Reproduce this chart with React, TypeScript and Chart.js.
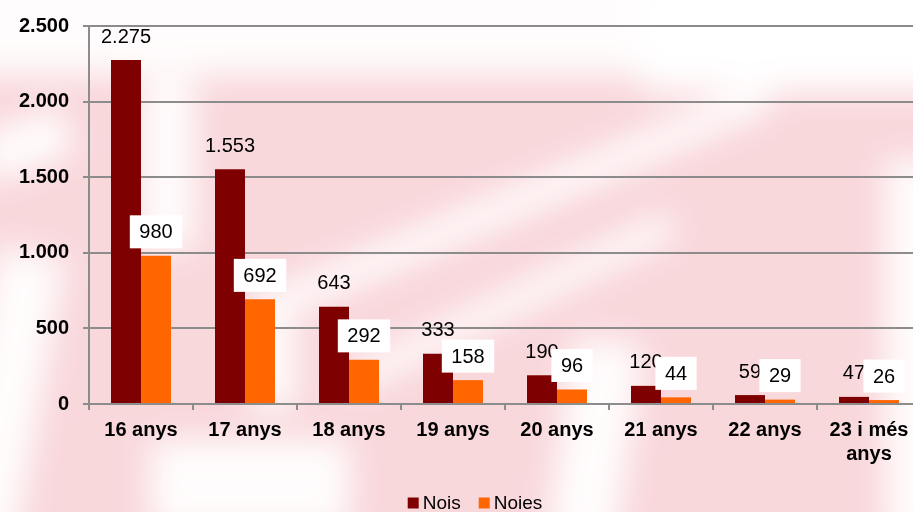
import React, { useEffect, useRef } from 'react';
import { Chart, registerables } from 'chart.js';

Chart.register(...registerables);

const categories: (string | string[])[] = [
  '16 anys', '17 anys', '18 anys', '19 anys', '20 anys', '21 anys', '22 anys', ['23 i més', 'anys'],
];
const seriesNames = ['Nois', 'Noies'];
const nois = [2275, 1553, 643, 333, 190, 120, 59, 47];
const noies = [980, 692, 292, 158, 96, 44, 29, 26];
const yTicks = [0, 500, 1000, 1500, 2000, 2500];

const COLORS = ['#7f0000', '#ff6600'];
const FAMILY = '"Liberation Sans", Arial, sans-serif';
const GRID = '#8c8c8c';

const fmt = (v: number) => String(v).replace(/\B(?=(\d{3})+(?!\d))/g, '.');

// blurred background shapes (pure decoration)
const bgShapes: React.CSSProperties[] = [
  { left: -60, top: -60, width: 1040, height: 135 },
  { left: 640, top: -20, width: 320, height: 112 },
  { left: 230, top: 190, width: 560, height: 30, transform: 'rotate(-23deg)' },
  { left: 330, top: 290, width: 360, height: 26, transform: 'rotate(-26deg)' },
  { left: 885, top: 160, width: 60, height: 380 },
  { left: 560, top: 340, width: 70, height: 200, transform: 'rotate(8deg)' },
  { left: -30, top: 250, width: 70, height: 300, transform: 'rotate(10deg)' },
  { left: -20, top: 120, width: 90, height: 50, transform: 'rotate(-20deg)' },
  { left: 140, top: 80, width: 55, height: 170 },
  { left: 150, top: 440, width: 200, height: 90 },
  { left: 250, top: 320, width: 45, height: 90 },
];

const labelsPlugin = {
  id: 'valueLabels',
  afterDatasetsDraw(chart: any) {
    const ctx = chart.ctx as CanvasRenderingContext2D;
    ctx.save();
    ctx.font = `20px ${FAMILY}`;
    ctx.textAlign = 'center';
    ctx.textBaseline = 'middle';
    ctx.fillStyle = '#000';
    const m0 = chart.getDatasetMeta(0);
    m0.data.forEach((bar: any, i: number) => {
      ctx.fillText(fmt(nois[i]), bar.x, bar.y - 23);
    });
    const m1 = chart.getDatasetMeta(1);
    m1.data.forEach((bar: any, i: number) => {
      const t = fmt(noies[i]);
      const w = ctx.measureText(t).width + 19;
      const h = 33;
      const cy = bar.y - 24;
      ctx.fillStyle = '#fff';
      ctx.fillRect(bar.x - w / 2, cy - h / 2, w, h);
      ctx.fillStyle = '#000';
      ctx.fillText(t, bar.x, cy + 1);
    });
    ctx.restore();
  },
};

const legendPlugin = {
  id: 'bottomLegend',
  afterDraw(chart: any) {
    const ctx = chart.ctx as CanvasRenderingContext2D;
    ctx.save();
    ctx.font = `19px ${FAMILY}`;
    ctx.textBaseline = 'alphabetic';
    ctx.textAlign = 'left';
    const box = 11, gapText = 4, gapItem = 18;
    const ds = chart.data.datasets;
    let total = 0;
    ds.forEach((d: any, i: number) => {
      total += box + gapText + ctx.measureText(d.label).width + (i < ds.length - 1 ? gapItem : 0);
    });
    const ca = chart.chartArea;
    let x = (ca.left + ca.right) / 2 - 30 - total / 2;
    const baseY = 509;
    ds.forEach((d: any) => {
      ctx.fillStyle = d.backgroundColor;
      ctx.fillRect(x, baseY - 11.5, box, box);
      x += box + gapText;
      ctx.fillStyle = '#000';
      ctx.fillText(d.label, x, baseY);
      x += ctx.measureText(d.label).width + gapItem;
    });
    ctx.restore();
  },
};

export default function App() {
  const ref = useRef<HTMLCanvasElement | null>(null);

  useEffect(() => {
    if (!ref.current) return;
    const chart = new Chart(ref.current, {
      type: 'bar',
      data: {
        labels: categories as any,
        datasets: [
          { label: seriesNames[0], data: nois, backgroundColor: COLORS[0], categoryPercentage: 0.577, barPercentage: 1 },
          { label: seriesNames[1], data: noies, backgroundColor: COLORS[1], categoryPercentage: 0.577, barPercentage: 1 },
        ],
      },
      options: {
        responsive: false,
        maintainAspectRatio: false,
        animation: false,
        layout: { padding: { left: 0, right: 4, top: 23, bottom: 0 } },
        plugins: {
          legend: { display: false },
          tooltip: { enabled: false },
        },
        scales: {
          x: {
            grid: { display: true, drawOnChartArea: false, drawTicks: true, tickLength: 6, color: GRID, lineWidth: 2, offset: true },
            border: { display: true, color: GRID, width: 2 },
            ticks: {
              color: '#000',
              font: { size: 20, weight: 'bold', family: FAMILY, lineHeight: 1.2 },
              padding: 8,
              maxRotation: 0,
              autoSkip: false,
            },
            afterFit: (s: any) => { s.height = 108; },
          },
          y: {
            min: 0,
            max: 2500,
            afterBuildTicks: (s: any) => { s.ticks = yTicks.map((v) => ({ value: v })); },
            ticks: {
              color: '#000',
              font: { size: 20, weight: 'bold', family: FAMILY },
              padding: 14,
              callback: (v: any) => fmt(Number(v)),
            },
            grid: { color: GRID, lineWidth: 2, tickLength: 6 },
            border: { display: true, color: GRID, width: 2 },
            afterFit: (s: any) => { s.paddingLeft = 0; s.width = 89; },
          },
        },
      } as any,
      plugins: [labelsPlugin, legendPlugin],
    });
    return () => chart.destroy();
  }, []);

  return (
    <div style={{ position: 'absolute', left: 0, top: 0, width: 913, height: 512, overflow: 'hidden', background: '#f9d8dc' }}>
      <div style={{ position: 'absolute', inset: 0, filter: 'blur(16px)' }}>
        {bgShapes.map((s, i) => (
          <div key={i} style={{ position: 'absolute', background: 'rgba(255,255,255,0.92)', ...s }} />
        ))}
      </div>
      <canvas ref={ref} width={925} height={512} style={{ position: 'absolute', left: 0, top: 0 }} />
    </div>
  );
}
